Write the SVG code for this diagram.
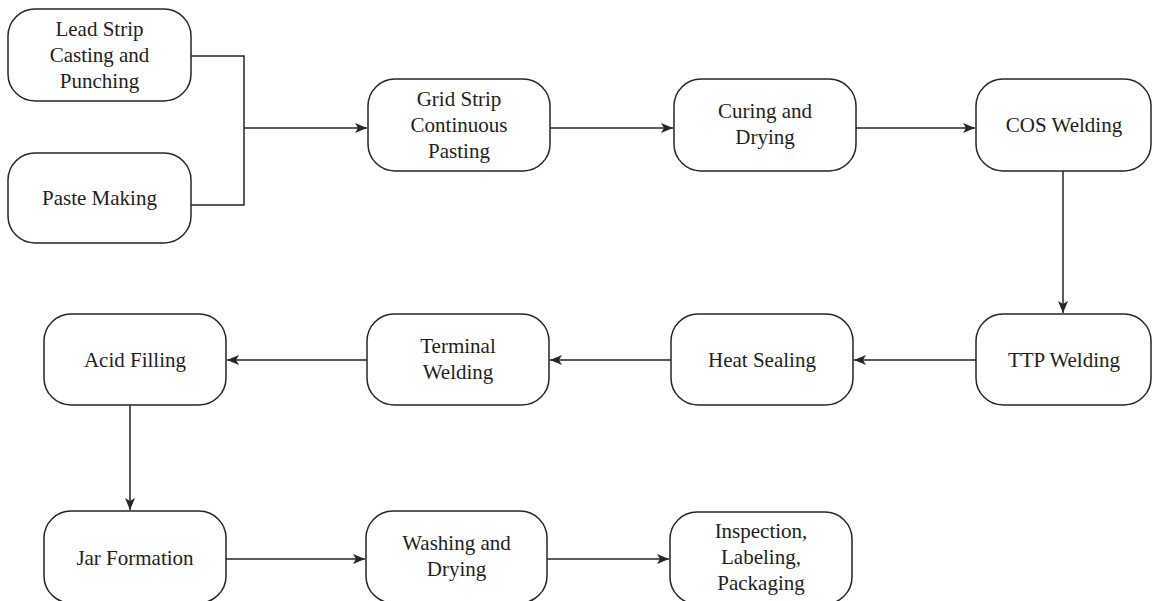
<svg xmlns="http://www.w3.org/2000/svg" width="1152" height="601" viewBox="0 0 1152 601">
<style>
.box{fill:#fff;stroke:#262626;stroke-width:1.5}
.t{font-family:"Liberation Serif","Times New Roman",serif;font-size:21px;fill:#1e1e1e;text-anchor:middle}
.c{fill:none;stroke:#262626;stroke-width:1.5}
</style>
<defs>
<marker id="ah" markerWidth="13" markerHeight="11" refX="12" refY="5.5" orient="auto" markerUnits="userSpaceOnUse">
<path d="M0,0.5 L12,5.5 L0,10.5 L3,5.5 Z" fill="#262626"/>
</marker>
</defs>
<rect width="1152" height="601" fill="#fff"/>
<g id="connectors">
<polyline class="c" points="191,56 244,56 244,205 191,205"/>
<line class="c" x1="244" y1="128" x2="367" y2="128" marker-end="url(#ah)"/>
<line class="c" x1="550" y1="128" x2="673" y2="128" marker-end="url(#ah)"/>
<line class="c" x1="856" y1="128" x2="975" y2="128" marker-end="url(#ah)"/>
<line class="c" x1="1063" y1="171" x2="1063" y2="313" marker-end="url(#ah)"/>
<line class="c" x1="976" y1="360" x2="854" y2="360" marker-end="url(#ah)"/>
<line class="c" x1="671" y1="360" x2="550" y2="360" marker-end="url(#ah)"/>
<line class="c" x1="367" y1="360" x2="227" y2="360" marker-end="url(#ah)"/>
<line class="c" x1="130" y1="405" x2="130" y2="510" marker-end="url(#ah)"/>
<line class="c" x1="226" y1="559" x2="365" y2="559" marker-end="url(#ah)"/>
<line class="c" x1="547" y1="559" x2="669" y2="559" marker-end="url(#ah)"/>
</g>
<g id="lead-strip">
<rect class="box" x="8" y="9" width="183" height="92" rx="27"/>
<text class="t" x="99.5" y="36">Lead Strip</text>
<text class="t" x="99.5" y="62">Casting and</text>
<text class="t" x="99.5" y="88">Punching</text>
</g>
<g id="paste-making">
<rect class="box" x="8" y="153" width="183" height="90" rx="27"/>
<text class="t" x="99.5" y="205">Paste Making</text>
</g>
<g id="grid-strip">
<rect class="box" x="368" y="79" width="182" height="92" rx="27"/>
<text class="t" x="459" y="106">Grid Strip</text>
<text class="t" x="459" y="132">Continuous</text>
<text class="t" x="459" y="158">Pasting</text>
</g>
<g id="curing">
<rect class="box" x="674" y="79" width="182" height="92" rx="27"/>
<text class="t" x="765" y="118">Curing and</text>
<text class="t" x="765" y="144">Drying</text>
</g>
<g id="cos-welding">
<rect class="box" x="976" y="79" width="175" height="92" rx="27"/>
<text class="t" x="1064" y="132">COS Welding</text>
</g>
<g id="ttp-welding">
<rect class="box" x="976" y="314" width="175" height="91" rx="27"/>
<text class="t" x="1064" y="367">TTP Welding</text>
</g>
<g id="heat-sealing">
<rect class="box" x="671" y="314" width="182" height="91" rx="27"/>
<text class="t" x="762" y="367">Heat Sealing</text>
</g>
<g id="terminal-welding">
<rect class="box" x="367" y="314" width="182" height="91" rx="27"/>
<text class="t" x="458" y="353">Terminal</text>
<text class="t" x="458" y="379">Welding</text>
</g>
<g id="acid-filling">
<rect class="box" x="44" y="314" width="182" height="91" rx="27"/>
<text class="t" x="135" y="367">Acid Filling</text>
</g>
<g id="jar-formation">
<rect class="box" x="44" y="511" width="182" height="92" rx="27"/>
<text class="t" x="135" y="565">Jar Formation</text>
</g>
<g id="washing">
<rect class="box" x="366" y="511" width="181" height="92" rx="27"/>
<text class="t" x="456.5" y="550">Washing and</text>
<text class="t" x="456.5" y="576">Drying</text>
</g>
<g id="inspection">
<rect class="box" x="670" y="512" width="182" height="92" rx="27"/>
<text class="t" x="761" y="538">Inspection,</text>
<text class="t" x="761" y="564">Labeling,</text>
<text class="t" x="761" y="590">Packaging</text>
</g>
</svg>
